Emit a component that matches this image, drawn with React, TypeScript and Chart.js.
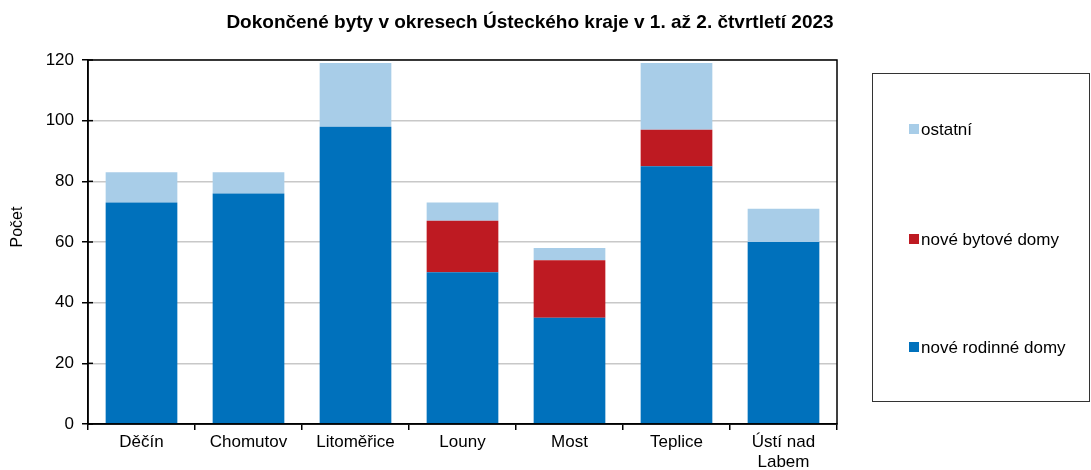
import React, { useEffect, useRef } from "react";
import { Chart, registerables } from "chart.js";

Chart.register(...registerables);

const categories: (string | string[])[] = ["Děčín", "Chomutov", "Litoměřice", "Louny", "Most", "Teplice", ["Ústí nad", "Labem"]];
const rodinneDomy = [73, 76, 98, 50, 35, 85, 60];
const bytoveDomy = [0, 0, 0, 17, 19, 12, 0];
const ostatni = [10, 7, 21, 6, 4, 22, 11];
const seriesNames = ["nové rodinné domy", "nové bytové domy", "ostatní"];
const seriesColors = ["#0071bc", "#be1a22", "#a8cde8"];
const titleText = "Dokončené byty v okresech Ústeckého kraje v 1. až 2. čtvrtletí 2023";
const yTitle = "Počet";

const FONT = "'Liberation Sans', Arial, sans-serif";

const overlayPlugin = {
  id: "overlay",
  afterDraw(chart: any) {
    const ctx = chart.ctx;
    const { left, right, top, bottom } = chart.chartArea;
    ctx.save();
    // plot border
    ctx.strokeStyle = "#000";
    ctx.lineWidth = 1.5;
    ctx.strokeRect(left, top, right - left, bottom - top);
    // y ticks crossing inside
    const ys = chart.scales.y;
    ys.ticks.forEach((t: any) => {
      const py = ys.getPixelForValue(t.value);
      ctx.beginPath();
      ctx.moveTo(left, py);
      ctx.lineTo(left + 5, py);
      ctx.stroke();
    });
    // title
    ctx.fillStyle = "#000";
    ctx.font = `bold 19px ${FONT}`;
    ctx.textAlign = "center";
    ctx.textBaseline = "middle";
    ctx.fillText(titleText, 530, 23);
    // y axis title
    ctx.save();
    ctx.translate(18, 227);
    ctx.rotate(-Math.PI / 2);
    ctx.font = `16px ${FONT}`;
    ctx.fillText(yTitle, 0, 0);
    ctx.restore();
    // legend box
    ctx.lineWidth = 1;
    ctx.strokeStyle = "#333";
    ctx.strokeRect(872.5, 73.5, 217, 328);
    const items = [
      { name: seriesNames[2], color: seriesColors[2], y: 129 },
      { name: seriesNames[1], color: seriesColors[1], y: 239 },
      { name: seriesNames[0], color: seriesColors[0], y: 347 },
    ];
    ctx.font = `17px ${FONT}`;
    ctx.textAlign = "left";
    items.forEach((it) => {
      ctx.fillStyle = it.color;
      ctx.fillRect(909, it.y - 5, 10, 10);
      ctx.fillStyle = "#000";
      ctx.fillText(it.name, 921, it.y + 1);
    });
    ctx.restore();
  },
};

export default function App() {
  const ref = useRef<HTMLCanvasElement>(null);
  useEffect(() => {
    if (!ref.current) return;
    const data = [rodinneDomy, bytoveDomy, ostatni];
    const chart = new Chart(ref.current, {
      type: "bar",
      data: {
        labels: categories as any,
        datasets: data.map((d, i) => ({
          label: seriesNames[i],
          data: d,
          backgroundColor: seriesColors[i],
          borderWidth: 0,
          barPercentage: 0.67,
          categoryPercentage: 1,
        })),
      },
      options: {
        animation: false,
        responsive: false,
        maintainAspectRatio: false,
        layout: { padding: { left: 0, right: 254, top: 60, bottom: 0 } },
        plugins: {
          legend: { display: false },
          title: { display: false },
          tooltip: { enabled: false },
        },
        scales: {
          x: {
            stacked: true,
            offset: true,
            grid: {
              display: true,
              offset: true,
              drawOnChartArea: false,
              drawTicks: true,
              tickLength: 6,
              tickColor: "#000",
              lineWidth: 1.5,
            },
            border: { display: true, color: "#000", width: 1.5 },
            ticks: { color: "#000", font: { family: FONT, size: 17, lineHeight: 1.2 }, padding: 2, maxRotation: 0, autoSkip: false },
            afterFit(scale: any) {
              scale.height = 46;
            },
          },
          y: {
            stacked: true,
            min: 0,
            max: 120,
            ticks: { stepSize: 20, color: "#000", font: { family: FONT, size: 17 }, padding: 8 },
            grid: { color: "#c8c8c8", lineWidth: 1.5, tickLength: 6, tickColor: "#000" },
            border: { display: true, color: "#000", width: 1.5 },
            afterFit(scale: any) {
              scale.width = 88;
            },
          },
        },
      },
      plugins: [overlayPlugin],
    });
    return () => chart.destroy();
  }, []);
  return (
    <div style={{ position: "fixed", left: 0, top: 0, width: 1091, height: 470, background: "#fff" }}>
      <canvas ref={ref} width={1091} height={470} style={{ width: 1091, height: 470 }} />
    </div>
  );
}
